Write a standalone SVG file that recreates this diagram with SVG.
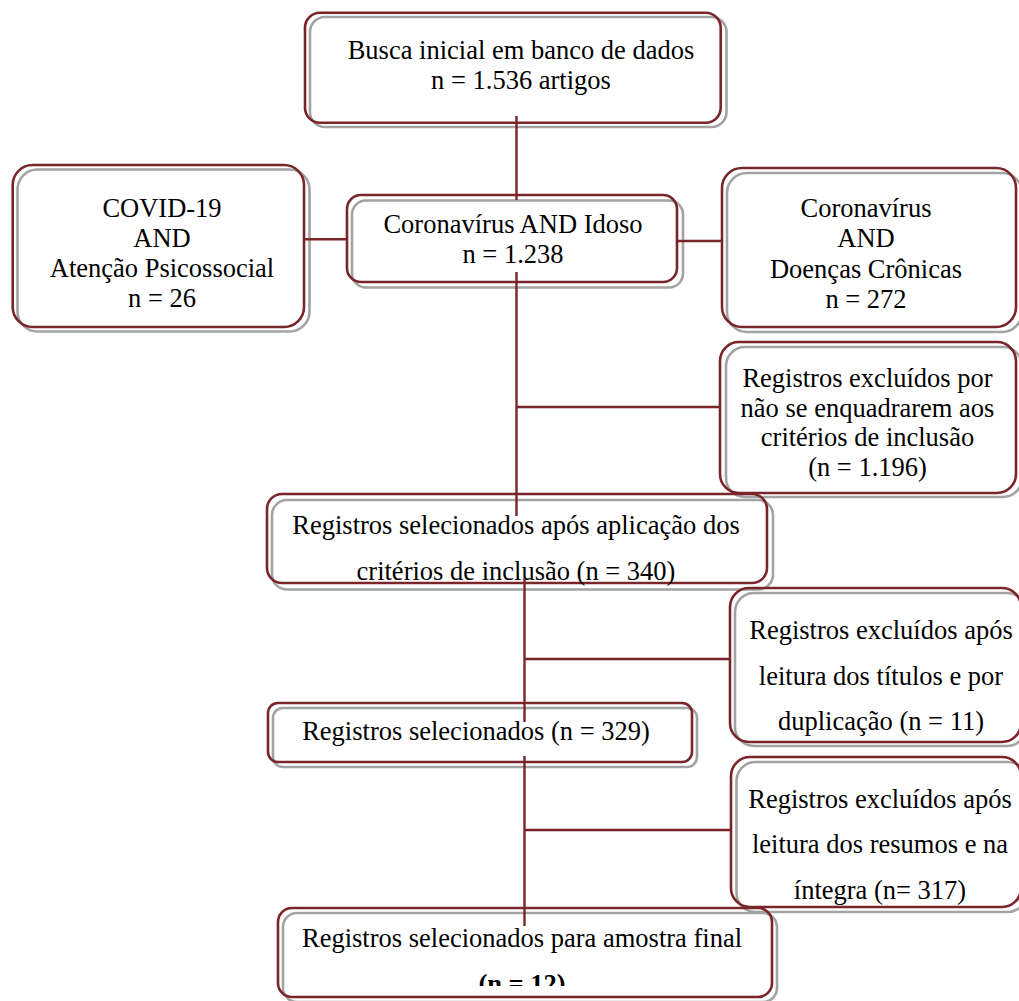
<svg xmlns="http://www.w3.org/2000/svg" width="1019" height="1001" viewBox="0 0 1019 1001">
<style>
.m{fill:none;stroke:#7a2529;stroke-width:2.6}
.g{fill:none;stroke:#a3a3a3;stroke-width:2.6}
.t{font-family:"Liberation Serif","Times New Roman",serif;font-size:26.5px;fill:#000;text-anchor:middle}
.b{font-weight:bold}
.c{fill:none;stroke:#7a2529;stroke-width:2.4}
</style>
<defs>
<clipPath id="clipFinal"><rect x="280" y="910" width="490" height="76"/></clipPath>
</defs>
<rect width="1019" height="1001" fill="#fff"/>

<g id="n-busca">
<rect class="g" x="310" y="17" width="416.5" height="110" rx="15"/>
<rect class="m" x="305" y="12.7" width="415.7" height="110" rx="15"/>
<text class="t" x="521" y="59">Busca inicial em banco de dados</text>
<text class="t" x="521" y="89">n = 1.536 artigos</text>
</g>

<g id="n-covid">
<rect class="g" x="17.5" y="169.5" width="292" height="162" rx="20"/>
<rect class="m" x="12.7" y="165" width="291.3" height="162" rx="20"/>
<text class="t" x="162" y="217">COVID-19</text>
<text class="t" x="162" y="247">AND</text>
<text class="t" x="162" y="277">Atenção Psicossocial</text>
<text class="t" x="162" y="307">n = 26</text>
</g>

<g id="n-idoso">
<rect class="g" x="352" y="200.5" width="331" height="87" rx="14"/>
<rect class="m" x="347" y="195" width="330" height="87" rx="14"/>
<text class="t" x="513" y="233">Coronavírus AND Idoso</text>
<text class="t" x="513" y="263">n = 1.238</text>
</g>

<g id="n-doencas">
<rect class="g" x="727" y="173" width="295" height="159" rx="20"/>
<rect class="m" x="722" y="168" width="294" height="159" rx="20"/>
<text class="t" x="866" y="216.5">Coronavírus</text>
<text class="t" x="866" y="247">AND</text>
<text class="t" x="866" y="277.5">Doenças Crônicas</text>
<text class="t" x="866" y="308">n = 272</text>
</g>

<g id="n-excl1">
<rect class="g" x="726" y="347" width="296" height="150" rx="19"/>
<rect class="m" x="720" y="342" width="296" height="151" rx="19"/>
<text class="t" x="867.5" y="387">Registros excluídos por</text>
<text class="t" x="867.5" y="416.5">não se enquadrarem aos</text>
<text class="t" x="867.5" y="446">critérios de inclusão</text>
<text class="t" x="867.5" y="475.5">(n = 1.196)</text>
</g>

<g id="n-selapos">
<rect class="g" x="272" y="500" width="501" height="89.5" rx="15"/>
<rect class="m" x="267" y="494" width="500" height="89" rx="15"/>
<text class="t" x="516" y="533.5">Registros selecionados após aplicação dos</text>
<text class="t" x="516" y="579.5">critérios de inclusão (n = 340)</text>
</g>

<g id="n-excl2">
<rect class="g" x="735" y="593" width="291" height="153" rx="19"/>
<rect class="m" x="730" y="588" width="291" height="154" rx="19"/>
<text class="t" x="881" y="639">Registros excluídos após</text>
<text class="t" x="881" y="684.5">leitura dos títulos e por</text>
<text class="t" x="881" y="730">duplicação (n = 11)</text>
</g>

<g id="n-sel329">
<rect class="g" x="273" y="708" width="424" height="59" rx="10"/>
<rect class="m" x="268" y="703" width="424" height="59" rx="10"/>
<text class="t" x="476" y="740">Registros selecionados (n = 329)</text>
</g>

<g id="n-excl3">
<rect class="g" x="736.5" y="762" width="290" height="150" rx="19"/>
<rect class="m" x="731" y="757" width="290" height="150" rx="19"/>
<text class="t" x="880" y="807.5">Registros excluídos após</text>
<text class="t" x="880" y="853">leitura dos resumos e na</text>
<text class="t" x="880" y="898.5">íntegra (n= 317)</text>
</g>

<g id="n-final">
<rect class="g" x="283" y="913" width="494" height="89" rx="14"/>
<rect class="m" x="278" y="908" width="494" height="89" rx="14"/>
<text class="t" x="522" y="947">Registros selecionados para amostra final</text>
<text class="t b" x="522" y="992.5" clip-path="url(#clipFinal)">(n = 12)</text>
</g>

<g id="connectors">
<line class="c" x1="516.5" y1="116" x2="516.5" y2="200"/>
<line class="c" x1="304" y1="239.3" x2="347" y2="239.3"/>
<line class="c" x1="677" y1="241" x2="722" y2="241"/>
<line class="c" x1="516.5" y1="272" x2="516.5" y2="516"/>
<line class="c" x1="516.5" y1="407" x2="720" y2="407"/>
<line class="c" x1="524.5" y1="578" x2="524.5" y2="722"/>
<line class="c" x1="524.5" y1="659" x2="730" y2="659"/>
<line class="c" x1="524.5" y1="756" x2="524.5" y2="926"/>
<line class="c" x1="524.5" y1="830" x2="731" y2="830"/>
</g>
</svg>
